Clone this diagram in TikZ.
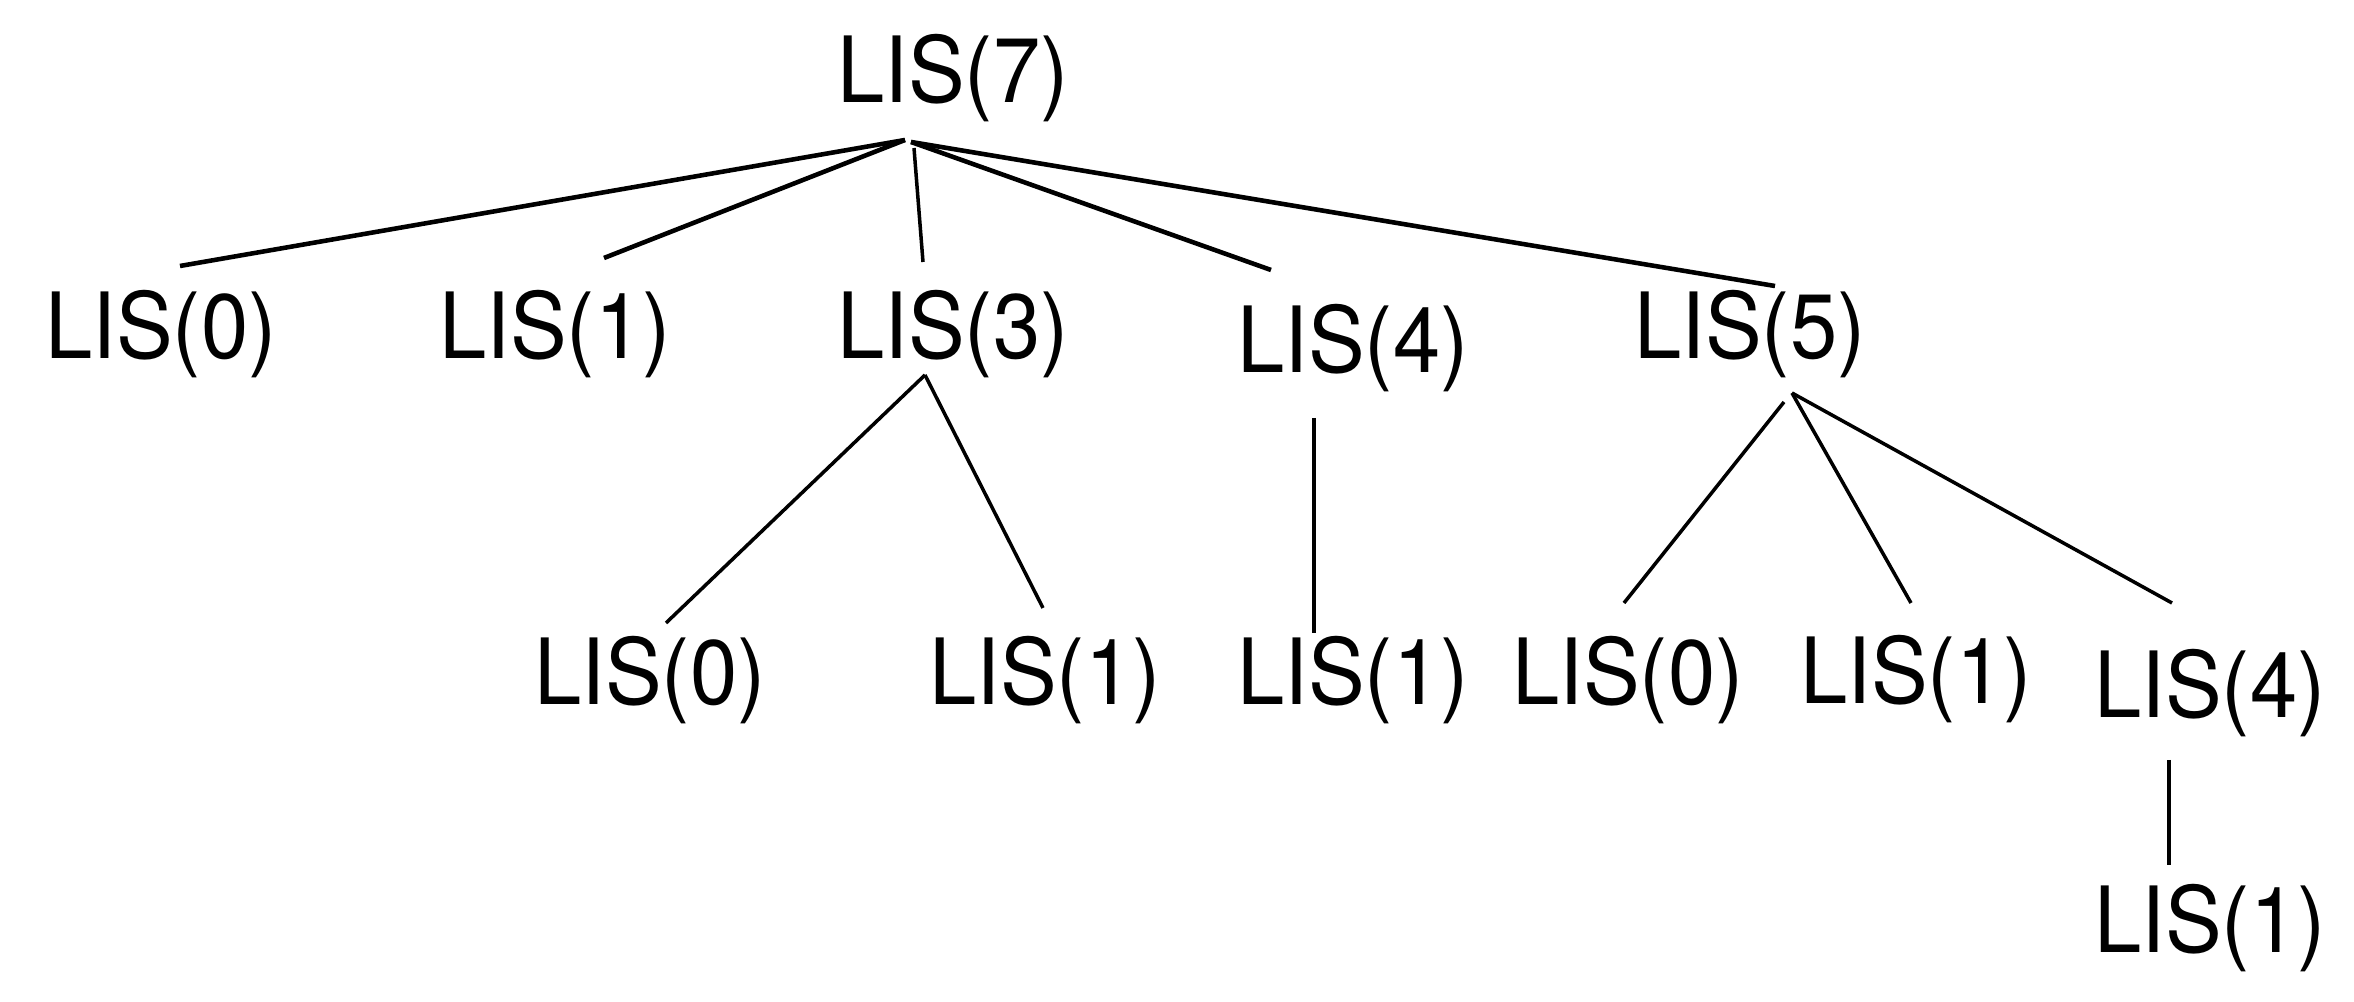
\documentclass[tikz,border=0pt]{standalone}
\usepackage{fontspec}
\usepackage{tikz}
\newfontfamily\lisfont[FakeStretch=0.93]{TeX Gyre Heros}
\tikzstyle{lis} = [anchor=base, inner sep=0pt, font=\lisfont\fontsize{26}{30}\selectfont]
\tikzstyle{rootedge} = [line width=1.3pt]
\tikzstyle{edge} = [line width=1pt]

\begin{document}
\begin{tikzpicture}
   \useasboundingbox (0,0) rectangle (23.54,10.02);
   % root and first level
   \node (r) [lis] at (9.53,8.99) {LIS(7)};
   \node (a0) [lis] at (1.61,6.43) {LIS(0)};
   \node (a1) [lis] at (5.55,6.43) {LIS(1)};
   \node (a3) [lis] at (9.53,6.43) {LIS(3)};
   \node (a4) [lis] at (13.53,6.29) {LIS(4)};
   \node (a5) [lis] at (17.50,6.43) {LIS(5)};
   % second level
   \node (b30) [lis] at (6.50,2.97) {LIS(0)};
   \node (b31) [lis] at (10.45,2.97) {LIS(1)};
   \node (b41) [lis] at (13.53,2.97) {LIS(1)};
   \node (b50) [lis] at (16.28,2.97) {LIS(0)};
   \node (b51) [lis] at (19.16,2.98) {LIS(1)};
   \node (b54) [lis] at (22.10,2.84) {LIS(4)};
   % third level
   \node (c1) [lis] at (22.10,0.49) {LIS(1)};

   \draw [rootedge] ([shift={(-0.48,-0.37)}]r.base) -- ([shift={(0.19,0.93)}]a0.base);
   \draw [rootedge] ([shift={(-0.48,-0.37)}]r.base) -- ([shift={(0.49,1.01)}]a1.base);
   \draw [edge] ([shift={(-0.39,-0.45)}]r.base) -- ([shift={(-0.30,0.97)}]a3.base);
   \draw [rootedge] ([shift={(-0.42,-0.39)}]r.base) -- ([shift={(-0.82,1.03)}]a4.base);
   \draw [rootedge] ([shift={(-0.42,-0.39)}]r.base) -- ([shift={(0.25,0.73)}]a5.base);

   \draw [edge] ([shift={(-0.28,-0.16)}]a3.base) -- ([shift={(0.16,0.82)}]b30.base);
   \draw [edge] ([shift={(-0.28,-0.16)}]a3.base) -- ([shift={(-0.02,0.97)}]b31.base);
   \draw [edge] ([shift={(-0.39,-0.45)}]a4.base) -- ([shift={(-0.39,0.72)}]b41.base);
   \draw [edge] ([shift={(0.34,-0.43)}]a5.base) -- ([shift={(-0.04,1.02)}]b50.base);
   \draw [edge] ([shift={(0.42,-0.34)}]a5.base) -- ([shift={(-0.05,1.01)}]b51.base);
   \draw [edge] ([shift={(0.42,-0.34)}]a5.base) -- ([shift={(-0.38,1.15)}]b54.base);
   \draw [edge] ([shift={(-0.41,-0.42)}]b54.base) -- ([shift={(-0.41,0.88)}]c1.base);
\end{tikzpicture}
\end{document}
